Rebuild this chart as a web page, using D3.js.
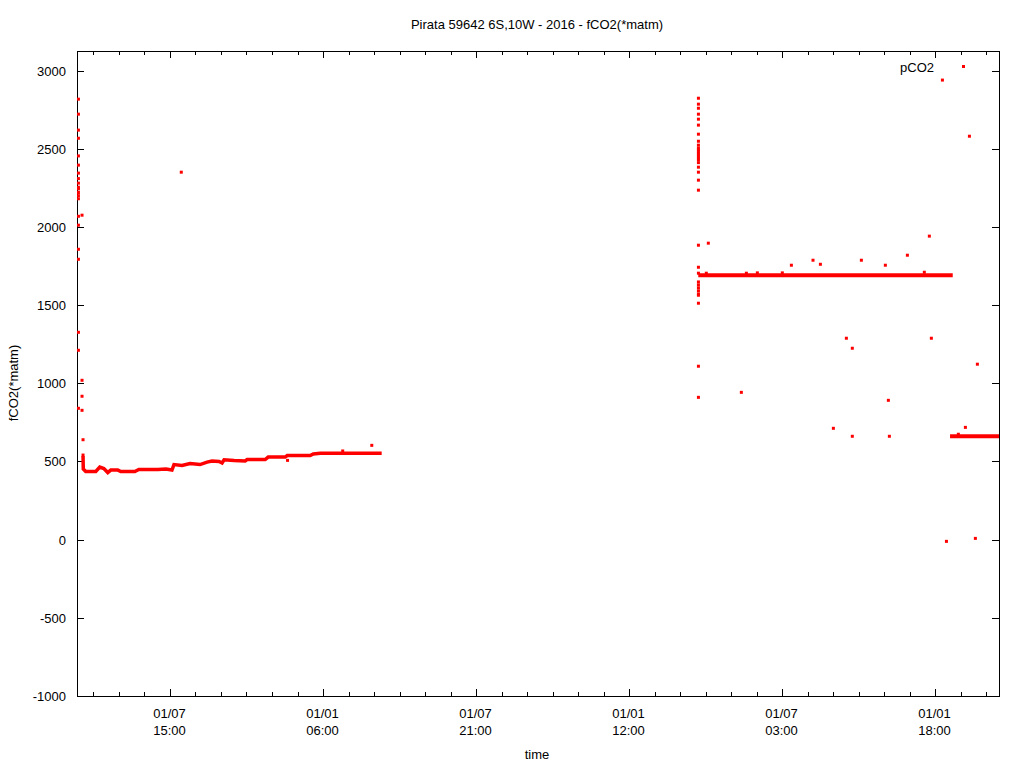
<!DOCTYPE html>
<html>
<head>
<meta charset="utf-8">
<script src="https://d3js.org/d3.v7.min.js"></script>
<style>
  body { margin: 0; background: #fff; }
  svg { display: block; font-family: 'Liberation Sans', Arial, sans-serif; font-size: 13px; }
  .axis-line { stroke: #000; stroke-width: 1; fill: none; }
</style>
</head>
<body>
<svg id="chart" width="1024" height="768"></svg>
<script>
  // x values are days, y values are fCO2 (*matm)
  const xTicks = [0, 182.625, 365.25, 547.875, 730.5, 913.125];
  const xTickLabels = [['01/07', '15:00'], ['01/01', '06:00'], ['01/07', '21:00'],
                       ['01/01', '12:00'], ['01/07', '03:00'], ['01/01', '18:00']];
  const yTicks = [-1000, -500, 0, 500, 1000, 1500, 2000, 2500, 3000];

  // dense runs of samples, drawn as a thick trace
  const run1 = [[-103.7, 535], [-103.4, 452], [-100.5, 436], [-88.5, 436], [-83.7, 464],
    [-78.9, 455], [-74.2, 429], [-70.6, 445], [-62.2, 445], [-58.6, 436], [-41.9, 436],
    [-37.1, 449], [-14.4, 449], [-4.8, 452], [2.4, 445], [4.8, 480], [14.4, 474],
    [23.9, 487], [35.9, 480], [44.3, 496], [50.2, 503], [58.6, 500], [62.2, 490],
    [64.6, 511], [76.5, 506], [89.7, 503], [92.1, 512], [113.6, 512], [117.2, 528],
    [137.5, 528], [139.9, 538], [167.4, 538], [171.0, 548], [179.4, 552], [252.6, 552]];
  const run2 = [[630.3, 1691], [933.9, 1691]];
  const run3 = [[930.7, 661], [989.2, 661]];

  // single samples
  const leftX = [-109.2, -109.2, -109.2, -109.2, -109.2, -109.2, -109.2, -109.2, -109.2,
    -109.2, -109.2, -109.2, -109.2, -109.2, -109.2, -109.2, -109.2, -109.2, -109.2, -109.2,
    -109.2, -104.9, -104.9, -104.9, -104.9, -103.7, -103.7];
  const leftY = [2817, 2721, 2619, 2567, 2454, 2395, 2344, 2309, 2280, 2254, 2243, 2220,
    2200, 2180, 2011, 1857, 1793, 1326, 1211, 840, 2068, 2075, 1019, 917, 827, 639, 541];
  const midX = [13.5, 140.3, 206.1, 240.8];
  const midY = [2350, 507, 567, 603];
  const spikeY = [2823, 2785, 2759, 2721, 2689, 2651, 2593, 2548, 2523, 2504, 2493, 2480,
    2467, 2454, 2441, 2429, 2411, 2382, 2350, 2299, 2235, 1883, 1742, 1704, 1648, 1629,
    1610, 1591, 1571, 1563, 1512, 1109, 910];
  const spikeDay = 630.5;
  const rightX = [642.3, 639.9, 687.7, 700.8, 730.6, 741.4, 767.2, 776.0, 824.9, 853.5,
    879.8, 900.0, 906.0, 807.0, 908.4, 814.1, 963.3, 681.7, 857.1, 791.5, 949.0, 814.1,
    858.3, 940.6, 926.4, 960.9, 921.6, 953.8];
  const rightY = [1896, 1704, 1704, 1706, 1706, 1755, 1787, 1761, 1787, 1755, 1819, 1710,
    1941, 1288, 1288, 1224, 1122, 942, 891, 712, 718, 661, 661, 674, -11, 8, 2939, 2580];

  const points = [];
  leftX.forEach((x, i) => points.push([x, leftY[i]]));
  midX.forEach((x, i) => points.push([x, midY[i]]));
  spikeY.forEach((y) => points.push([spikeDay, y]));
  rightX.forEach((x, i) => points.push([x, rightY[i]]));

  const plotLeft = 77, plotRight = 999, plotTop = 51, plotBottom = 696;
  const svg = d3.select('#chart');

  const xScale = d3.scaleLinear().domain([-110.9, 989.1]).range([plotLeft, plotRight]);
  const yScale = d3.scaleLinear().domain([-1000, 3125]).range([plotBottom, plotTop]);

  svg.append('defs').append('clipPath').attr('id', 'clip')
    .append('rect').attr('x', plotLeft).attr('y', plotTop)
    .attr('width', plotRight - plotLeft).attr('height', plotBottom - plotTop);

  // ticks (inward, mirrored)
  const g = svg.append('g').attr('class', 'ticks');
  const minorStep = 182.625 / 6;
  const minor = d3.range(xTicks[0] - 3 * minorStep, 989, minorStep)
    .filter((v) => xTicks.every((t) => Math.abs(t - v) > 1));
  minor.forEach((v) => {
    const x = Math.round(xScale(v)) + 0.5;
    g.append('line').attr('class', 'axis-line').attr('x1', x).attr('x2', x)
      .attr('y1', plotBottom).attr('y2', plotBottom - 4);
    g.append('line').attr('class', 'axis-line').attr('x1', x).attr('x2', x)
      .attr('y1', plotTop).attr('y2', plotTop + 4);
  });
  xTicks.forEach((v, i) => {
    const x = Math.round(xScale(v)) + 0.5;
    g.append('line').attr('class', 'axis-line').attr('x1', x).attr('x2', x)
      .attr('y1', plotBottom).attr('y2', plotBottom - 7);
    g.append('line').attr('class', 'axis-line').attr('x1', x).attr('x2', x)
      .attr('y1', plotTop).attr('y2', plotTop + 7);
    const t = svg.append('text').attr('text-anchor', 'middle').attr('x', x - 1);
    t.append('tspan').attr('x', x - 1).attr('y', 718).text(xTickLabels[i][0]);
    t.append('tspan').attr('x', x - 1).attr('y', 735).text(xTickLabels[i][1]);
  });
  yTicks.forEach((v) => {
    const y = Math.round(yScale(v)) + 0.5;
    g.append('line').attr('class', 'axis-line').attr('x1', plotLeft).attr('x2', plotLeft + 7)
      .attr('y1', y).attr('y2', y);
    g.append('line').attr('class', 'axis-line').attr('x1', plotRight).attr('x2', plotRight - 7)
      .attr('y1', y).attr('y2', y);
    svg.append('text').attr('text-anchor', 'end').attr('x', 66).attr('y', y + 4).text(v);
  });

  svg.append('rect').attr('class', 'axis-line')
    .attr('x', plotLeft + 0.5).attr('y', plotTop + 0.5)
    .attr('width', plotRight - plotLeft).attr('height', plotBottom - plotTop);

  // data
  const plot = svg.append('g').attr('clip-path', 'url(#clip)');
  const line = d3.line().x((d) => xScale(d[0])).y((d) => yScale(d[1]));
  [[run1, 3.5], [run2, 4], [run3, 4]].forEach(([run, w]) => {
    plot.append('path').attr('d', line(run)).attr('fill', 'none')
      .attr('stroke', '#ff0000').attr('stroke-width', w);
  });
  plot.selectAll('rect.pt').data(points).enter().append('rect')
    .attr('class', 'pt')
    .attr('x', (d) => xScale(d[0]) - 1.5)
    .attr('y', (d) => yScale(d[1]) - 1.5)
    .attr('width', 3).attr('height', 3)
    .attr('fill', '#ff0000');

  // legend
  svg.append('text').attr('text-anchor', 'end').attr('x', 934).attr('y', 72).text('pCO2');
  svg.append('rect').attr('x', 962).attr('y', 65).attr('width', 3).attr('height', 3)
    .attr('fill', '#ff0000');

  // labels
  svg.append('text').attr('text-anchor', 'middle').attr('x', 537).attr('y', 29)
    .text('Pirata 59642 6S,10W - 2016 - fCO2(*matm)');
  svg.append('text').attr('text-anchor', 'middle').attr('x', 537).attr('y', 759).text('time');
  svg.append('text').attr('text-anchor', 'middle')
    .attr('transform', 'translate(18,383) rotate(-90)').text('fCO2(*matm)');
</script>
</body>
</html>
